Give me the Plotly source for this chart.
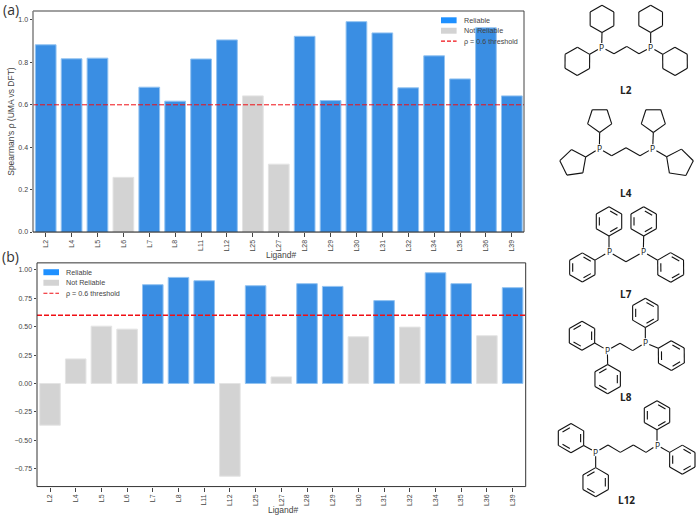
import math
import plotly.graph_objects as go

W, H = 696, 519

ligands = ["L2", "L4", "L5", "L6", "L7", "L8", "L11", "L12", "L25", "L27",
           "L28", "L29", "L30", "L31", "L32", "L34", "L35", "L36", "L39"]
rho_a = [0.883, 0.817, 0.820, 0.258, 0.683, 0.617, 0.816, 0.906, 0.642, 0.320,
         0.923, 0.620, 0.992, 0.939, 0.680, 0.831, 0.722, 0.963, 0.642]
rho_b = [-0.367, 0.216, 0.504, 0.478, 0.869, 0.933, 0.904, -0.816, 0.860, 0.058,
         0.878, 0.854, 0.411, 0.729, 0.496, 0.974, 0.878, 0.420, 0.843]
not_reliable_a = ["L6", "L25", "L27"]
not_reliable_b = ["L2", "L4", "L5", "L6", "L12", "L27", "L30", "L32", "L36"]
threshold = 0.6

BLUE, BLUE_EDGE, BLUE_KEY = "#3a8ee3", "#93c3f1", "#1e90ff"
GRAY, GRAY_EDGE = "#d3d3d3", "#e4e4e4"
RED = "#f00f14"
TEXT = "#444444"
SANS = "Liberation Sans, Arial, sans-serif"
LABEL = "Open Sans, sans-serif"

fig = go.Figure()


def add_bars(values, flagged, xaxis, yaxis):
    colours = [GRAY if n in flagged else BLUE for n in ligands]
    edges = [GRAY_EDGE if n in flagged else BLUE_EDGE for n in ligands]
    fig.add_trace(go.Bar(x=ligands, y=values, width=0.8, xaxis=xaxis, yaxis=yaxis,
                         marker=dict(color=colours, line=dict(color=edges, width=1)),
                         showlegend=False, hoverinfo="x+y"))


XR_A, XR_B = [-0.49, 18.47], [-0.506, 18.51]
add_bars(rho_a, not_reliable_a, "x", "y")
add_bars(rho_b, not_reliable_b, "x2", "y2")


# Skeletal formulae: points are given in a 3x drawing grid, offset into the page.
def to_page(p, origin):
    return origin[0] + p[0] / 3, origin[1] + p[1] / 3


def ring_points(center, vertex, n):
    a0 = math.atan2(vertex[1] - center[1], vertex[0] - center[0])
    r = math.dist(center, vertex)
    return [(center[0] + r * math.cos(a0 + 2 * math.pi * i / n),
             center[1] + r * math.sin(a0 + 2 * math.pi * i / n)) for i in range(n)]


def trimmed(a, b, trim_a=0.0, trim_b=0.0):
    d = math.dist(a, b)
    ux, uy = (b[0] - a[0]) / d, (b[1] - a[1]) / d
    return (a[0] + ux * trim_a, a[1] + uy * trim_a), (b[0] - ux * trim_b, b[1] - uy * trim_b)


def molecule(origin, phosphorus, chain, rings, attachments, aromatic=False):
    xs, ys = [], []

    def seg(a, b):
        pa, pb = to_page(a, origin), to_page(b, origin)
        xs.extend([pa[0], pb[0], None])
        ys.extend([pa[1], pb[1], None])

    for center, vertex, n in rings:
        pts = ring_points(center, vertex, n)
        for i in range(n):
            seg(pts[i], pts[(i + 1) % n])
        if aromatic:
            # Inner strokes for the alternating double bonds of each phenyl ring
            for i in range(1, n, 2):
                a, b = pts[i], pts[(i + 1) % n]
                ia = (center[0] + (a[0] - center[0]) * 0.76, center[1] + (a[1] - center[1]) * 0.76)
                ib = (center[0] + (b[0] - center[0]) * 0.76, center[1] + (b[1] - center[1]) * 0.76)
                ia, ib = trimmed(ia, ib, 4, 4)
                seg(ia, ib)

    path = [phosphorus[0]] + chain + [phosphorus[1]]
    for i in range(len(path) - 1):
        a, b = path[i], path[i + 1]
        seg(*trimmed(a, b, 13 if i == 0 else 0, 13 if i == len(path) - 2 else 0))
    for p_index, vertex in attachments:
        seg(*trimmed(phosphorus[p_index], vertex, 13, 0))

    fig.add_trace(go.Scatter(x=xs, y=ys, mode="lines", xaxis="x3", yaxis="y3",
                             line=dict(color="#111111", width=1.1), showlegend=False,
                             hoverinfo="skip"))
    for p in phosphorus:
        px, py = to_page(p, origin)
        fig.add_annotation(x=px, y=py, xref="x3", yref="y3", text="P", showarrow=False,
                           font=dict(family=LABEL, size=8.5, color="#111111"))


# Dicyclohexylphosphino propane
molecule((540, 0), [(185, 143), (332, 143)], [(222, 162), (260, 140), (297, 162)],
         [((186, 57), (186, 98), 6), ((112, 185), (149, 164), 6),
          ((332, 57), (332, 98), 6), ((405, 185), (368, 164), 6)],
         [(0, (186, 98)), (0, (149, 164)), (1, (332, 98)), (1, (368, 164))])
# Dicyclopentylphosphino propane
molecule((540, 0), [(178, 448), (338, 448)], [(215, 470), (258, 446), (300, 470)],
         [((179, 362), (179, 400), 5), ((100, 492), (137, 474), 5),
          ((340, 362), (340, 400), 5), ((418, 492), (380, 473), 5)],
         [(0, (179, 400)), (0, (137, 474)), (1, (340, 400)), (1, (380, 473))])
# Bis(diphenylphosphino)methane
molecule((540, 200), [(207, 160), (310, 160)], [(258, 190)],
         [((207, 68), (207, 112), 6), ((127, 207), (165, 185), 6),
          ((311, 68), (311, 112), 6), ((392, 207), (353, 185), 6)],
         [(0, (207, 112)), (0, (165, 185)), (1, (311, 112)), (1, (353, 185))], aromatic=True)
# Bis(diphenylphosphino)ethane
molecule((540, 200), [(202, 457), (316, 434)], [(240, 436), (278, 458)],
         [((126, 413), (164, 435), 6), ((316, 344), (316, 388), 6),
          ((394, 473), (355, 451), 6), ((203, 544), (203, 500), 6)],
         [(0, (164, 435)), (0, (203, 500)), (1, (316, 388)), (1, (355, 451))], aromatic=True)
# Bis(diphenylphosphino)butane
molecule((540, 360), [(167, 284), (351, 263)], [(204, 263), (241, 285), (280, 263), (318, 285)],
         [((93, 242), (131, 264), 6), ((167, 375), (167, 331), 6),
          ((351, 173), (351, 217), 6), ((427, 307), (389, 285), 6)],
         [(0, (131, 264)), (0, (167, 331)), (1, (351, 217)), (1, (389, 285))], aromatic=True)

annotations = []


def text(x, y, s, size=7.2, color=TEXT, anchor="center", family=SANS, angle=0):
    annotations.append(dict(x=x, y=y, xref="x3", yref="y3", text=s, showarrow=False, xanchor=anchor,
                            yanchor="middle", textangle=angle, xshift=0,
                            font=dict(family=family, size=size, color=color)))


for name, x, y in [("L2", 626.3, 91), ("L4", 626.3, 193.7), ("L7", 626, 295.7),
                   ("L8", 626.3, 399.7), ("L12", 626.3, 502.7)]:
    text(x, y, f"<b>{name}</b>", size=10, color="#222222", family=LABEL)

text(1, 10, "(a)", size=14, color="#333333", anchor="left", family=LABEL)
text(0, 258, "(b)", size=14, color="#333333", anchor="left", family=LABEL)
text(11, 122.5, "Spearman's ρ (UMA vs DFT)", size=8.5, angle=-90)
text(281, 256, "Ligand#", size=8.5)
text(283, 513, "Ligand#", size=8.5)

shapes = []


def rect(x0, y0, x1, y1, color):
    shapes.append(dict(type="rect", xref="x3", yref="y3", x0=x0, y0=y0, x1=x1, y1=y1,
                       fillcolor=color, line=dict(width=0)))


def line(x0, y0, x1, y1, color, width, dash=None):
    shapes.append(dict(type="line", xref="x3", yref="y3", x0=x0, y0=y0, x1=x1, y1=y1,
                       line=dict(color=color, width=width, dash=dash)))


def threshold_line(xaxis, yaxis, width):
    shapes.append(dict(type="line", xref=f"{xaxis} domain", yref=yaxis, x0=0, x1=1,
                       y0=threshold, y1=threshold,
                       line=dict(color=RED, width=width, dash="5px,2px")))


def key(x, rows):
    rect(x, rows[0] - 3, x + 15.6, rows[0] + 3, BLUE_KEY)
    rect(x, rows[1] - 3, x + 15.6, rows[1] + 3, GRAY)
    line(x, rows[2], x + 15.6, rows[2], RED, 1.1, "4px,2px")
    tx = x + 21
    text(tx, rows[0], "Reliable", anchor="left")
    text(tx, rows[1], "Not Reliable", anchor="left")
    text(tx, rows[2], "ρ = 0.6 threshold", anchor="left")


threshold_line("x", "y", 1)
threshold_line("x2", "y2", 1.5)
key(441, [20.4, 30.9, 41.4])
key(43.4, [273.8, 284.4, 295])

# Panel frames
line(33, 11, 524, 11, "#808080", 1.5)
line(33, 11, 33, 233.4, "#808080", 1.5)
line(524, 11, 524, 233.4, "#444444", 1)
line(33, 233.4, 524, 233.4, "#111111", 1)
for a in [(37, 264.4, 525.7, 264.4), (37, 489.4, 525.7, 489.4),
          (37, 264.4, 37, 489.4), (525.7, 264.4, 525.7, 489.4)]:
    line(*a, "#333333", 1)

tick_font = dict(family=SANS, size=7, color=TEXT)
x_common = dict(type="category", categoryorder="array", categoryarray=ligands, tickangle=-90,
                ticks="outside", ticklen=4, tickwidth=0.7, tickcolor="#444444",
                tickfont=tick_font, showgrid=False, zeroline=False, showline=False)
y_common = dict(ticks="outside", ticklen=2.5, tickwidth=0.7, tickcolor="#444444",
                tickfont=tick_font, showgrid=False, zeroline=False, showline=False)

# The page-wide overlay axes need a clear background so both panels stay visible.
fig.update_layout(
    width=W, height=H, autosize=False, margin=dict(l=0, r=0, t=0, b=0),
    paper_bgcolor="white", plot_bgcolor="rgba(0,0,0,0)", bargap=0.2, shapes=shapes,
    annotations=list(fig.layout.annotations) + annotations,
    xaxis=dict(domain=[33 / W, 524 / W], range=XR_A, anchor="y", **x_common),
    yaxis=dict(domain=[1 - 233.4 / H, 1 - 11 / H], range=[0, 1.0426], anchor="x",
               tickvals=[0, 0.2, 0.4, 0.6, 0.8, 1.0], tickformat=".1f", **y_common),
    xaxis2=dict(domain=[37 / W, 525.7 / W], range=XR_B, anchor="y2", **x_common),
    yaxis2=dict(domain=[1 - 489.4 / H, 1 - 264.4 / H], range=[-0.907, 1.061], anchor="x2",
                tickvals=[-0.75, -0.5, -0.25, 0, 0.25, 0.5, 0.75, 1.0], tickformat=".2f", **y_common),
    xaxis3=dict(domain=[0, 1], range=[0, W], visible=False, fixedrange=True, anchor="y3"),
    yaxis3=dict(domain=[0, 1], range=[H, 0], visible=False, fixedrange=True, anchor="x3"),
)

fig.write_html("out.html", config={"displayModeBar": False})
